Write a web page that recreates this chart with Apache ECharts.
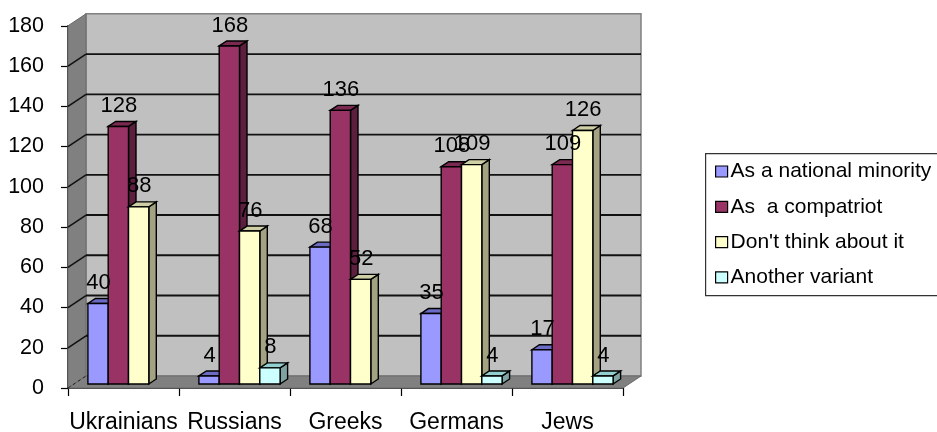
<!DOCTYPE html>
<html>
<head>
<meta charset="utf-8">
<style>html,body{margin:0;padding:0;background:#fff}#c{width:937px;height:432px}</style>
<script src="https://cdn.jsdelivr.net/npm/echarts@6/dist/echarts.min.js"></script>
</head>
<body>
<div id="c"></div>
<script>
var categories = ['Ukrainians', 'Russians', 'Greeks', 'Germans', 'Jews'];
var yTicks = [0, 20, 40, 60, 80, 100, 120, 140, 160, 180];
var nationalMinority = [40, 4, 68, 35, 17];
var compatriot = [128, 168, 136, 108, 109];
var dontThink = [88, 76, 52, 109, 126];
var anotherVariant = [null, 8, null, 4, 4];
var seriesNames = ['As a national minority', 'As  a compatriot', "Don't think about it", 'Another variant'];
var seriesValues = [nationalMinority, compatriot, dontThink, anotherVariant];
var faceColors = ['#9999FF', '#993366', '#FFFFCC', '#CCFFFF'];
var topColors = ['#6B6BC4', '#7A2950', '#CFCFA5', '#93CFCF'];
var sideColors = ['#5C5C99', '#5C1F3D', '#A3A383', '#7FA3A3'];

var FONT = '"Liberation Sans", Arial, sans-serif';
var wallDx = 18, wallDy = -12;   // depth of the floor/walls
var barDx = 7.5, barDy = -5;     // depth of a bar
var baseDx = 5, baseDy = -4;     // where the bars stand on the floor
var barW = 20.3;

function poly(points, fill, stroke, lw, z2) {
  return {type: 'polygon', shape: {points: points},
    style: {fill: fill, stroke: stroke || null, lineWidth: lw || 0}, z2: z2 || 0, silent: true};
}
function line(x1, y1, x2, y2, stroke, lw, dash) {
  return {type: 'line', shape: {x1: x1, y1: y1, x2: x2, y2: y2},
    style: {stroke: stroke, lineWidth: lw, lineDash: dash || null}, silent: true};
}
function renderWalls(params, api) {
  var cs = params.coordSys;
  var l = cs.x, r = cs.x + cs.width;
  var y0 = api.coord([0, 0])[1], yMax = api.coord([0, yTicks[yTicks.length - 1]])[1];
  var kids = [
    poly([[l + wallDx, yMax + wallDy], [r + wallDx, yMax + wallDy], [r + wallDx, y0 + wallDy], [l + wallDx, y0 + wallDy]], '#C0C0C0', '#808080', 1.5),
    poly([[l, yMax], [l + wallDx, yMax + wallDy], [l + wallDx, y0 + wallDy], [l, y0]], '#808080', '#6a6a6a', 1),
    poly([[l, y0], [r, y0], [r + wallDx, y0 + wallDy], [l + wallDx, y0 + wallDy]], '#808080', '#6a6a6a', 1)
  ];
  yTicks.forEach(function (t) {
    var y = api.coord([0, t])[1];
    if (t > 0 && t < yTicks[yTicks.length - 1]) {
      kids.push(line(l + wallDx, y + wallDy, r + wallDx, y + wallDy, '#111', 1.8));
      kids.push(line(l, y, l + wallDx, y + wallDy, '#111', 1.5));
    }
  });
  kids.push(line(l, y0, l + wallDx, y0 + wallDy, '#222', 1, [3, 3]));
  return {type: 'group', children: kids};
}
function makeBarRenderer(si) {
  return function (params, api) {
    var v = api.value(1);
    var p = api.coord([api.value(0), v]);
    var b = api.coord([api.value(0), 0]);
    var x = p[0] + baseDx + (si - 2) * barW, x2 = x + barW;
    var top = p[1] + baseDy, bot = b[1] + baseDy;
    var st = '#000', lw = 1.4;
    return {type: 'group', children: [
      poly([[x2, top], [x2 + barDx, top + barDy], [x2 + barDx, bot + barDy], [x2, bot]], sideColors[si], st, lw),
      poly([[x, top], [x + barDx, top + barDy], [x2 + barDx, top + barDy], [x2, top]], topColors[si], st, lw),
      poly([[x, top], [x2, top], [x2, bot], [x, bot]], faceColors[si], st, lw)
    ]};
  };
}
function renderLabel(params, api) {
  var si = api.value(2);
  var p = api.coord([api.value(0), api.value(1)]);
  return {type: 'text', silent: true, style: {
    x: p[0] + baseDx + (si - 2) * barW + barW / 2 + 0.5,
    y: p[1] + baseDy - 20.5,
    text: String(api.value(1)),
    fill: '#000', font: '22px ' + FONT, align: 'center', verticalAlign: 'middle'
  }};
}
var labelData = [];
seriesValues.forEach(function (vals, si) {
  vals.forEach(function (v, i) { if (v !== null) labelData.push([i, v, si]); });
});
var series = [{
  type: 'custom', name: 'walls', z: 1, silent: true, data: [[0, 0]],
  encode: {x: 0, y: 1}, renderItem: renderWalls
}];
seriesValues.forEach(function (vals, si) {
  var d = [];
  vals.forEach(function (v, i) { if (v !== null) d.push([i, v]); });
  series.push({type: 'custom', name: seriesNames[si], z: 2 + si, silent: true, data: d,
    encode: {x: 0, y: 1}, itemStyle: {color: faceColors[si]}, renderItem: makeBarRenderer(si)});
});
series.push({type: 'custom', name: 'labels', z: 10, silent: true, data: labelData,
  encode: {x: 0, y: 1}, renderItem: renderLabel});

var chart = echarts.init(document.getElementById('c'), null, {renderer: 'canvas'});
chart.setOption({
  animation: false,
  color: faceColors,
  grid: {left: 68, top: 25.8, width: 555, height: 362.2, containLabel: false, outerBoundsMode: 'none'},
  xAxis: {
    type: 'category', data: categories, boundaryGap: true,
    axisLine: {lineStyle: {color: '#000', width: 1.5}},
    axisTick: {show: true, length: 8, alignWithLabel: false, lineStyle: {color: '#000', width: 1.2}},
    axisLabel: {interval: 0, color: '#000', fontFamily: FONT, fontSize: 23, margin: 23},
    splitLine: {show: false}
  },
  yAxis: {
    type: 'value', min: 0, max: 180, interval: 20,
    axisLine: {show: true, lineStyle: {color: '#000', width: 1.5}},
    axisTick: {show: true, length: 7, lineStyle: {color: '#000', width: 1.2}},
    axisLabel: {color: '#000', fontFamily: FONT, fontSize: 21.5, margin: 24},
    splitLine: {show: false}
  },
  legend: {
    show: true, orient: 'vertical', left: 715, top: 161, padding: 0, selectedMode: false,
    itemWidth: 12, itemHeight: 11, itemGap: 14.3,
    itemStyle: {borderColor: '#000', borderWidth: 1.2},
    textStyle: {color: '#000', fontFamily: FONT, fontSize: 21, lineHeight: 20, padding: [0, 0, 0, -2]},
    data: seriesNames.map(function (n) { return {name: n, icon: 'rect'}; })
  },
  graphic: [{
    type: 'rect', left: 705, top: 153, silent: true, z: -1,
    shape: {width: 240, height: 142},
    style: {fill: '#fff', stroke: '#333', lineWidth: 1.2}
  }],
  series: series
});
</script>
</body>
</html>
